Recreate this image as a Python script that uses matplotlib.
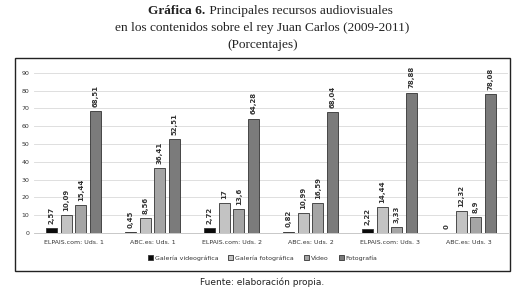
import numpy as np
import matplotlib
matplotlib.use("Agg")
import matplotlib.pyplot as plt
from matplotlib.patches import Rectangle

# DATA ########################################################################

categories = ["ELPAIS.com: Uds. 1", "ABC.es: Uds. 1", "ELPAIS.com: Uds. 2",
              "ABC.es: Uds. 2", "ELPAIS.com: Uds. 3", "ABC.es: Uds. 3"]
series_names = ["Galería videográfica", "Galería fotográfica", "Vídeo", "Fotografía"]

galeria_video = [2.57, 0.45, 2.72, 0.82, 2.22, 0]
galeria_foto = [10.09, 8.56, 17, 10.99, 14.44, 12.32]
video = [15.44, 36.41, 13.6, 16.59, 3.33, 8.9]
fotografia = [68.51, 52.51, 64.28, 68.04, 78.88, 78.08]

y_ticks = [0, 10, 20, 30, 40, 50, 60, 70, 80, 90]

colors = ["#0a0a0a", "#c3c3c3", "#a5a5a5", "#7b7b7b"]

W, H = 525, 288


def fmt(v):
    s = "{:g}".format(v)
    return s.replace(".", ",")


fig = plt.figure(figsize=(W / 100, H / 100), dpi=100)

# TITLE ########################################################################

serif = "Liberation Serif"
tsize = 9.6
fig.text(205 / W, 1 - 11 / H, "Gráfica 6.", ha="right", va="center",
         fontsize=tsize, family=serif, fontweight="bold", color="#222222")
fig.text(206 / W, 1 - 11 / H, " Principales recursos audiovisuales", ha="left",
         va="center", fontsize=tsize, family=serif, color="#222222")
fig.text(0.5, 1 - 28 / H, "en los contenidos sobre el rey Juan Carlos (2009-2011)",
         ha="center", va="center", fontsize=tsize, family=serif, color="#222222")
fig.text(0.5, 1 - 45 / H, "(Porcentajes)",
         ha="center", va="center", fontsize=tsize, family=serif, color="#222222")

# frame around chart
fig.patches.append(Rectangle((15 / W, 1 - 271 / H), 495 / W, 213 / H,
                             transform=fig.transFigure, fill=False,
                             edgecolor="#222222", linewidth=1.0))

fig.text(0.5, 1 - 282 / H, "Fuente: elaboración propia.", ha="center", va="center",
         fontsize=6.5, family="DejaVu Sans", color="#222222")

# CHART ########################################################################

ax = fig.add_axes([34 / W, 1 - 233 / H, 474 / W, 160.3 / H])

series = [galeria_video, galeria_foto, video, fotografia]
x = np.arange(len(categories))
width = 0.14
pitch = 0.183

for i, (vals, name, c) in enumerate(zip(series, series_names, colors)):
    pos = x + (i - 1.5) * pitch
    ax.bar(pos, vals, width, color=c, edgecolor="#333333", linewidth=0.6,
           label=name, zorder=3)
    for px_, v in zip(pos, vals):
        ax.annotate(fmt(v), (px_, v), xytext=(0, 3), textcoords="offset points",
                    rotation=90, ha="center", va="bottom", fontsize=5,
                    fontweight="bold", color="#333333", annotation_clip=False)

ax.set_xlim(-0.5, len(categories) - 0.5)
ax.set_ylim(0, 90)
ax.set_yticks(y_ticks)
ax.set_xticks(x)
ax.set_xticklabels(categories)
ax.tick_params(axis="both", length=0, labelsize=4.5, colors="#333333")
ax.tick_params(axis="x", pad=5)
ax.grid(axis="y", color="#d9d9d9", linewidth=0.6, zorder=0)
for s in ["top", "right", "left"]:
    ax.spines[s].set_visible(False)
ax.spines["bottom"].set_color("#bfbfbf")
ax.spines["bottom"].set_linewidth(0.6)

leg = fig.legend(loc="center", bbox_to_anchor=(0.5, 1 - 258 / H), ncol=4,
                 frameon=False, fontsize=4.5, handlelength=0.8, handleheight=0.8,
                 handletextpad=0.3, columnspacing=1.6)
for t in leg.get_texts():
    t.set_color("#333333")

plt.savefig("out.png", dpi=100)
